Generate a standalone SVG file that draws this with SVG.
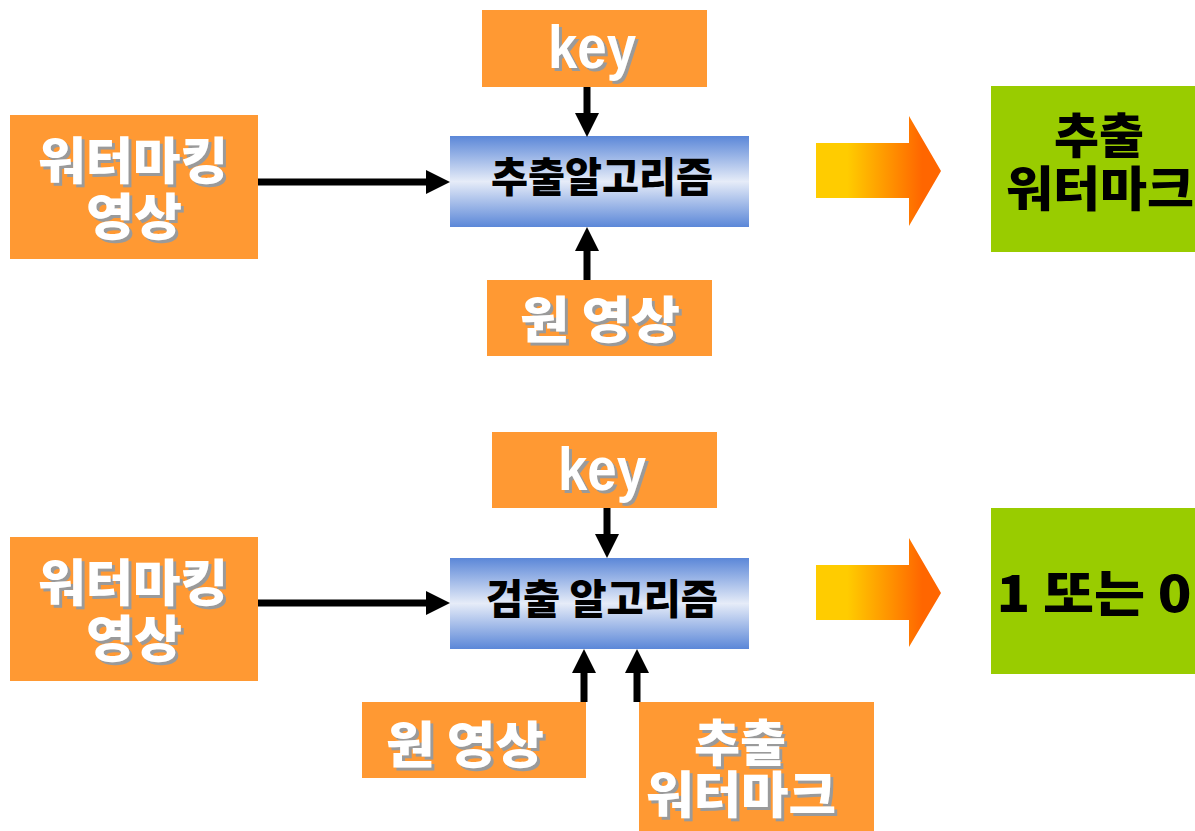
<svg xmlns="http://www.w3.org/2000/svg" width="1195" height="831" viewBox="0 0 1195 831">
<defs>
<linearGradient id="blue" x1="0" y1="0" x2="0" y2="1">
<stop offset="0" stop-color="#5B87D8"/>
<stop offset="0.5" stop-color="#E6ECF8"/>
<stop offset="1" stop-color="#5B87D8"/>
</linearGradient>
<linearGradient id="fat" x1="0" y1="0" x2="1" y2="0">
<stop offset="0.25" stop-color="#FFCC00"/>
<stop offset="0.85" stop-color="#FF6600"/>
</linearGradient>
<filter id="shadow" x="-10%" y="-10%" width="125%" height="130%">
<feFlood flood-color="#9A9A9A"/>
<feComposite in2="SourceAlpha" operator="in"/>
<feOffset dx="3" dy="3" result="s"/>
<feMerge><feMergeNode in="s"/><feMergeNode in="SourceGraphic"/></feMerge>
</filter>
<marker id="ah" markerUnits="userSpaceOnUse" markerWidth="26" markerHeight="26" refX="2" refY="12" orient="auto" viewBox="0 0 26 26">
<path d="M0,0 L24,12 L0,24 Z" fill="#000"/>
</marker>
</defs>
<style>
.or{fill:#FF9933}
.gr{fill:#99CC00}
.al{fill:url(#blue)}
.fa{fill:url(#fat)}
.k{font-family:"Noto Sans CJK KR","Liberation Sans",sans-serif;font-weight:900;text-anchor:middle}
.l{font-family:"Liberation Sans","Noto Sans CJK KR",sans-serif;font-weight:700;text-anchor:middle}
.wh{fill:#FFFFFF;filter:url(#shadow)}
.bk{fill:#000000}
.c line{stroke:#000;stroke-width:7;marker-end:url(#ah)}
</style>
<rect width="1195" height="831" fill="#FFFFFF"/>

<g id="top-key">
<rect class="or" x="482" y="10" width="225" height="77"/>
<text class="l wh" x="592" y="68" font-size="62" textLength="88" lengthAdjust="spacingAndGlyphs">key</text>
</g>
<g id="top-wm">
<rect class="or" x="10" y="115" width="248" height="144"/>
<text class="k wh" font-size="50"><tspan x="133" y="179" textLength="190" lengthAdjust="spacingAndGlyphs">워터마킹</tspan><tspan x="134" y="235" textLength="96" lengthAdjust="spacingAndGlyphs">영상</tspan></text>
</g>
<g id="top-algo">
<rect class="al" x="450" y="136" width="299" height="91"/>
<text class="k bk" x="602" y="192" font-size="41" textLength="222" lengthAdjust="spacingAndGlyphs">추출알고리즘</text>
</g>
<g id="top-orig">
<rect class="or" x="487" y="280" width="225" height="76"/>
<text class="k wh" x="600" y="338" font-size="50" textLength="160" lengthAdjust="spacingAndGlyphs">원 영상</text>
</g>
<g id="top-bigarrow">
<polygon class="fa" points="816,143 909,143 909,116 941,171 909,226 909,198 816,198"/>
</g>
<g id="top-result">
<rect class="gr" x="991" y="86" width="204" height="166"/>
<text class="k bk" font-size="48"><tspan x="1099" y="153" textLength="90" lengthAdjust="spacingAndGlyphs">추출</tspan><tspan x="1100" y="206" textLength="188" lengthAdjust="spacingAndGlyphs">워터마크</tspan></text>
</g>

<g id="bot-key">
<rect class="or" x="492" y="432" width="225" height="76"/>
<text class="l wh" x="602" y="490" font-size="62" textLength="88" lengthAdjust="spacingAndGlyphs">key</text>
</g>
<g id="bot-wm">
<rect class="or" x="10" y="537" width="248" height="144"/>
<text class="k wh" font-size="50"><tspan x="133" y="601" textLength="190" lengthAdjust="spacingAndGlyphs">워터마킹</tspan><tspan x="134" y="657" textLength="96" lengthAdjust="spacingAndGlyphs">영상</tspan></text>
</g>
<g id="bot-algo">
<rect class="al" x="450" y="558" width="299" height="91"/>
<text class="k bk" x="602" y="614" font-size="41" textLength="232" lengthAdjust="spacingAndGlyphs">검출 알고리즘</text>
</g>
<g id="bot-orig">
<rect class="or" x="362" y="702" width="224" height="76"/>
<text class="k wh" x="465" y="763" font-size="50" textLength="158" lengthAdjust="spacingAndGlyphs">원 영상</text>
</g>
<g id="bot-extract">
<rect class="or" x="639" y="702" width="235" height="129"/>
<text class="k wh" font-size="50"><tspan x="740" y="761" textLength="92" lengthAdjust="spacingAndGlyphs">추출</tspan><tspan x="741" y="813" textLength="190" lengthAdjust="spacingAndGlyphs">워터마크</tspan></text>
</g>
<g id="bot-bigarrow">
<polygon class="fa" points="816,565 909,565 909,538 941,593 909,647 909,620 816,620"/>
</g>
<g id="bot-result">
<rect class="gr" x="991" y="508" width="204" height="166"/>
<text class="k bk" x="1094" y="612" font-size="50" textLength="195" lengthAdjust="spacingAndGlyphs">1 또는 0</text>
</g>

<g id="connectors" class="c">
<line x1="587" y1="87" x2="587" y2="115"/>
<line x1="258" y1="182" x2="428" y2="182"/>
<line x1="587" y1="280" x2="587" y2="249"/>
<line x1="607" y1="508" x2="607" y2="536"/>
<line x1="258" y1="603" x2="428" y2="603"/>
<line x1="584" y1="702" x2="584" y2="671"/>
<line x1="637" y1="702" x2="637" y2="671"/>
</g>
</svg>
